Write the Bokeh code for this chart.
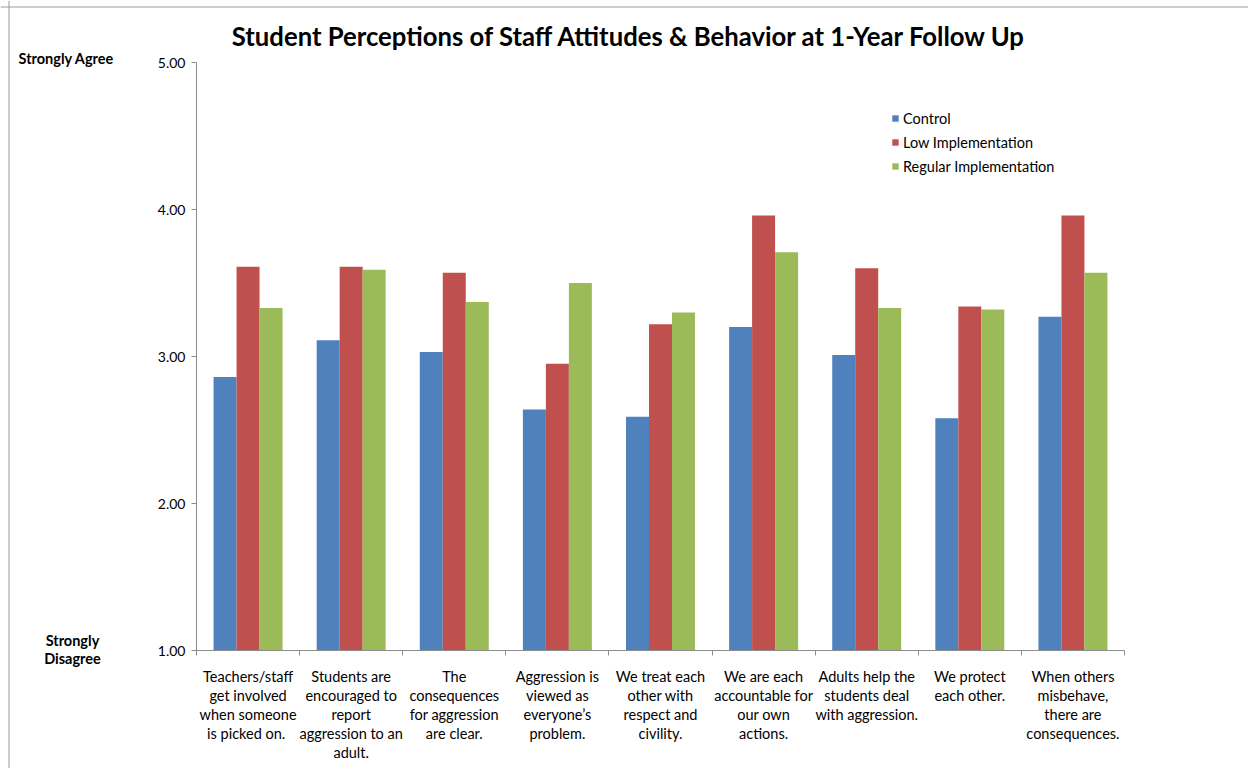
import numpy as np
from bokeh.plotting import figure
from bokeh.models import (Range1d, FixedTicker, NumeralTickFormatter, Legend,
                          LegendItem, Label, LinearAxis, Span)
from bokeh.embed import file_html
from bokeh.resources import INLINE

# Survey statements (x categories), one cluster of bars each
statements = [
    "Teachers/staff\nget involved\nwhen someone\nis  picked on.",
    "Students are\nencouraged to\nreport\naggression to an\nadult.",
    "The\nconsequences\nfor aggression\nare clear.",
    "Aggression is\nviewed as\neveryone\u2019s\nproblem.",
    "We treat each\nother with\nrespect and\ncivility.",
    "We are each\naccountable for\nour own\nactions.",
    "Adults help the\nstudents deal\nwith aggression.",
    "We protect\neach other.",
    "When others\nmisbehave,\nthere are\nconsequences.",
]

# Mean agreement (1 = Strongly Disagree, 5 = Strongly Agree)
control = [2.86, 3.11, 3.03, 2.64, 2.59, 3.20, 3.01, 2.58, 3.27]
low_impl = [3.61, 3.61, 3.57, 2.95, 3.22, 3.96, 3.60, 3.34, 3.96]
regular_impl = [3.33, 3.59, 3.37, 3.50, 3.30, 3.71, 3.33, 3.32, 3.57]

series_names = ["Control", "Low Implementation", "Regular Implementation"]
y_ticks = [1, 2, 3, 4, 5]

FONT = "Lato"
colors = ["#4F81BD", "#C0504D", "#9BBB59"]
AXIS_GREY = "#8c8c8c"

n = len(statements)
centers = np.arange(n) + 0.5
bar_w = 0.223

# 103.11 px per category and 147 px per scale point; the frame fills the
# canvas and the axes sit at fixed data positions inside it, so the side
# captions and the title can be placed in data space.
PX_X, PX_Y = 103.11, 147.0
W, H = 1248, 768
x0 = (0 - 196) / PX_X
y1 = 5 + (62 - 0) / PX_Y
p = figure(width=W, height=H, output_backend="svg", toolbar_location=None,
           x_range=Range1d(x0, x0 + W / PX_X), y_range=Range1d(y1 - H / PX_Y, y1),
           x_axis_location=None, y_axis_location=None,
           min_border=0, min_border_left=0, min_border_right=0,
           min_border_top=0, min_border_bottom=0)
p.outline_line_color = None
p.grid.grid_line_color = None
p.background_fill_color = "white"
p.border_fill_color = "white"

# thin chart-area border along the top and left edges
p.add_layout(Span(location=x0 + 8.5 / PX_X, dimension="height",
                  line_color="#9a9a9a", line_width=1))
p.add_layout(Span(location=y1 - 6.5 / PX_Y, dimension="width",
                  line_color="#9a9a9a", line_width=1))

renderers = []
for k, (vals, col) in enumerate(zip([control, low_impl, regular_impl], colors)):
    r = p.vbar(x=centers + (k - 1) * bar_w, top=vals, bottom=1, width=bar_w,
               fill_color=col, line_color=None)
    renderers.append(r)

# x axis: statement labels under each cluster, small ticks at cluster edges
xa = LinearAxis(fixed_location=1, bounds=(0, n))
xa.ticker = FixedTicker(ticks=list(centers), minor_ticks=list(range(n + 1)))
xa.major_label_overrides = {float(c): s for c, s in zip(centers, statements)}
xa.major_tick_out = 0
xa.major_tick_in = 0
xa.minor_tick_out = 5
xa.minor_tick_in = 0
xa.minor_tick_line_color = AXIS_GREY
xa.axis_line_color = AXIS_GREY
xa.major_label_text_font = FONT
xa.major_label_text_font_size = "14.5px"
xa.major_label_text_color = "#000000"
xa.major_label_standoff = 12
xa.major_label_text_line_height = 1.13
p.add_layout(xa, "below")

# y axis
ya = LinearAxis(fixed_location=0, bounds=(1, 5))
ya.ticker = FixedTicker(ticks=y_ticks, minor_ticks=[])
ya.formatter = NumeralTickFormatter(format="0.00")
ya.major_tick_out = 5
ya.major_tick_in = 0
ya.major_tick_line_color = AXIS_GREY
ya.axis_line_color = AXIS_GREY
ya.major_label_text_font = FONT
ya.major_label_text_font_size = "14px"
ya.major_label_text_color = "#000000"
ya.major_label_standoff = 6
p.add_layout(ya, "left")

legend = Legend(items=[LegendItem(label=nm, renderers=[r])
                       for nm, r in zip(series_names, renderers)],
                location=(891, 768 - 175), padding=0, margin=0, spacing=6,
                glyph_width=8, glyph_height=8, label_height=18,
                label_standoff=4, border_line_color=None,
                background_fill_alpha=0,
                label_text_font=FONT, label_text_font_size="14.5px",
                label_text_color="#000000")
p.add_layout(legend)

p.add_layout(Label(x=4.2, y=5.182,
                   text="Student Perceptions of Staff Attitudes & Behavior at 1-Year Follow Up",
                   text_font=FONT, text_font_style="bold", text_font_size="25.7px",
                   text_align="center", text_baseline="middle", text_color="#000000"))
p.add_layout(Label(x=-1.726, y=5.027, text="Strongly Agree", text_font=FONT,
                   text_font_style="bold", text_font_size="14.5px",
                   text_align="left", text_baseline="middle", text_color="#000000"))
p.add_layout(Label(x=-1.203, y=1.068, text="Strongly", text_font=FONT,
                   text_font_style="bold", text_font_size="14.5px",
                   text_align="center", text_baseline="middle", text_color="#000000"))
p.add_layout(Label(x=-1.203, y=0.946, text="Disagree", text_font=FONT,
                   text_font_style="bold", text_font_size="14.5px",
                   text_align="center", text_baseline="middle", text_color="#000000"))

open("out.html", "w").write(file_html(p, INLINE))
